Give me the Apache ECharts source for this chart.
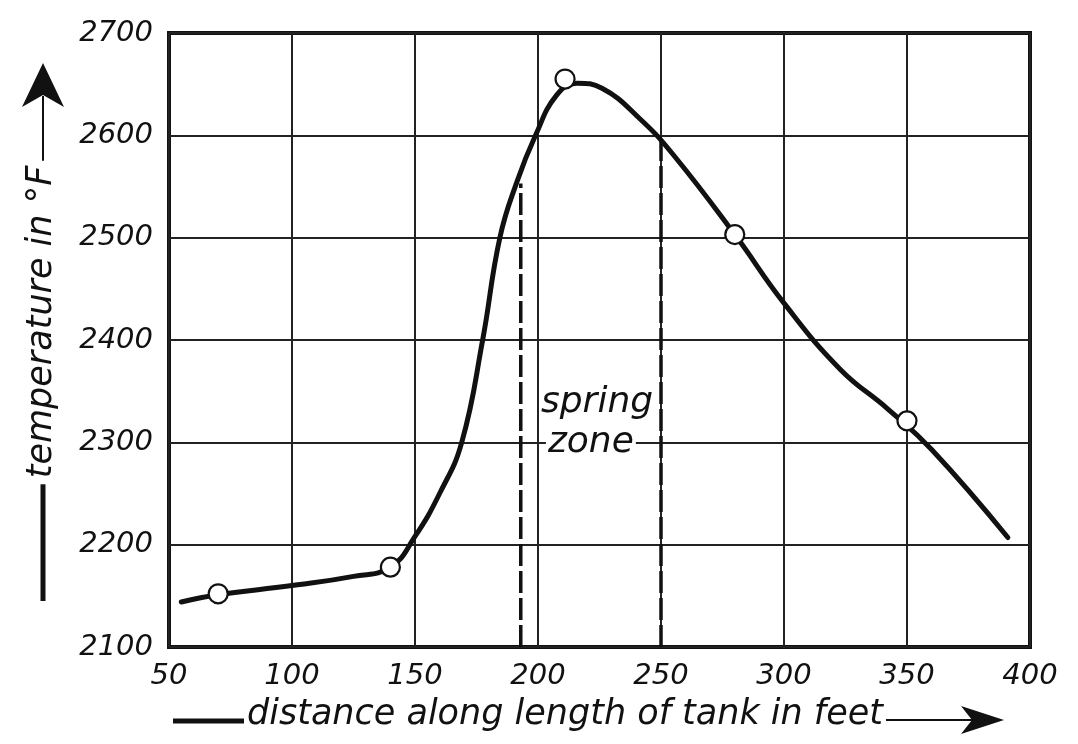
<!DOCTYPE html>
<html>
<head>
<meta charset="utf-8">
<title>temperature along tank</title>
<script src="https://cdn.jsdelivr.net/npm/echarts@6/dist/echarts.min.js"></script>
<style>
  html, body { margin: 0; padding: 0; background: #fff; }
  #chart { width: 1078px; height: 744px; }
</style>
</head>
<body>
<div id="chart"></div>
<script>
// curve (distance in feet, temperature in F)
var curveX = [55, 70, 100, 125, 140, 150, 160, 169, 177.5, 184.5, 191.5, 199, 207.5, 216, 226, 241.5, 255, 280, 300, 323, 342, 360, 391];
var curveY = [2144, 2151, 2160, 2169, 2178, 2208, 2250, 2300, 2400, 2500, 2555, 2600, 2639, 2651, 2646, 2616, 2581, 2503, 2436, 2371, 2333, 2293, 2207];

// measured points (open circles)
var markX = [70, 140, 211, 280, 350];
var markY = [2152, 2178, 2655, 2503, 2321];

// spring zone limits
var zoneX = [193, 250];
var zoneTop = [2553, 2597];

// annotations
var noteX = [224, 221.5];
var noteY = [2339, 2300];
var noteText = ['spring', 'zone'];

var xTicks = [50, 400, 50];      // min, max, step
var yTicks = [2100, 2700, 100];

var ink = '#111';
var font = 'DejaVu Sans';
var xTitle = 'distance along length of tank in feet';
var yTitle = 'temperature in °F';

function textWidth(txt, size) {
  var ctx = document.createElement('canvas').getContext('2d');
  ctx.font = 'italic ' + size + 'px "' + font + '"';
  return ctx.measureText(txt).width;
}

var chart = echarts.init(document.getElementById('chart'));

var seriesArr = [];
seriesArr.push({
  type: 'line',
  data: curveX.map(function (x, i) { return [x, curveY[i]]; }),
  smooth: 0.45,
  showSymbol: false,
  lineStyle: { color: ink, width: 5, cap: 'round', join: 'round' },
  z: 4,
  silent: true
});
zoneX.forEach(function (x, i) {
  seriesArr.push({
    type: 'line',
    data: [[x, yTicks[0]], [x, zoneTop[i]]],
    showSymbol: false,
    lineStyle: { color: ink, width: 3.5, type: [22, 5] },
    z: 3,
    silent: true
  });
});
seriesArr.push({
  type: 'scatter',
  data: markX.map(function (x, i) { return [x, markY[i]]; }),
  symbol: 'circle',
  symbolSize: 19,
  itemStyle: { color: '#fff', borderColor: ink, borderWidth: 2.2, opacity: 1 },
  z: 6,
  silent: true
});
seriesArr.push({
  type: 'scatter',
  symbolSize: 0,
  z: 5,
  silent: true,
  itemStyle: { opacity: 1 },
  data: noteX.map(function (x, i) {
    return {
      value: [x, noteY[i]],
      label: {
        show: true,
        position: 'inside',
        formatter: noteText[i],
        fontSize: 36,
        fontStyle: 'italic',
        fontFamily: font,
        color: ink,
        opacity: 1,
        backgroundColor: i === 1 ? '#fff' : 'transparent',
        padding: [0, 2]
      }
    };
  })
});

// axis titles with their leader lines and arrows
var titleSize = 35;
var xw = textWidth(xTitle, titleSize);
var yw = textWidth(yTitle, titleSize);
var yMid = 322;

var graphics = [
  { type: 'line', shape: { x1: 43, y1: 96, x2: 43, y2: yMid - yw / 2 - 5 }, style: { stroke: ink, lineWidth: 2 } },
  { type: 'polygon', shape: { points: [[43, 63], [64, 107], [43, 95], [22, 107]] }, style: { fill: ink } },
  { type: 'line', shape: { x1: 43, y1: yMid + yw / 2 + 6, x2: 43, y2: 601 }, style: { stroke: ink, lineWidth: 5 } },
  { type: 'text', x: 42, y: yMid, rotation: Math.PI / 2,
    style: { text: yTitle, fontSize: titleSize, fontStyle: 'italic', fontFamily: font, fill: ink, align: 'center', verticalAlign: 'middle' } },
  { type: 'line', shape: { x1: 173, y1: 721, x2: 244, y2: 721 }, style: { stroke: ink, lineWidth: 5 } },
  { type: 'text', x: 247, y: 715,
    style: { text: xTitle, fontSize: titleSize, fontStyle: 'italic', fontFamily: font, fill: ink, align: 'left', verticalAlign: 'middle' } },
  { type: 'line', shape: { x1: 247 + xw + 3, y1: 720, x2: 972, y2: 720 }, style: { stroke: ink, lineWidth: 2 } },
  { type: 'polygon', shape: { points: [[1004, 720], [961, 706], [972, 720], [961, 734]] }, style: { fill: ink } }
];

var labelStyle = {
  fontSize: 29, fontStyle: 'italic', fontFamily: font, color: ink,
  formatter: function (v) { return String(v); }
};

var options = {
  animation: false,
  backgroundColor: '#fff',
  grid: {
    show: true,
    left: 169, right: 48, top: 33, bottom: 97,
    borderColor: ink, borderWidth: 4,
    backgroundColor: 'transparent'
  },
  xAxis: {
    type: 'value',
    min: xTicks[0], max: xTicks[1], interval: xTicks[2],
    axisLine: { show: false },
    axisTick: { show: false },
    splitLine: { show: true, lineStyle: { color: '#222', width: 2 } },
    axisLabel: Object.assign({ margin: 15 }, labelStyle)
  },
  yAxis: {
    type: 'value',
    min: yTicks[0], max: yTicks[1], interval: yTicks[2],
    axisLine: { show: false },
    axisTick: { show: false },
    splitLine: { show: true, lineStyle: { color: '#222', width: 2 } },
    axisLabel: Object.assign({ margin: 16 }, labelStyle)
  },
  series: seriesArr,
  graphic: graphics
};

chart.setOption(options);
</script>
</body>
</html>
